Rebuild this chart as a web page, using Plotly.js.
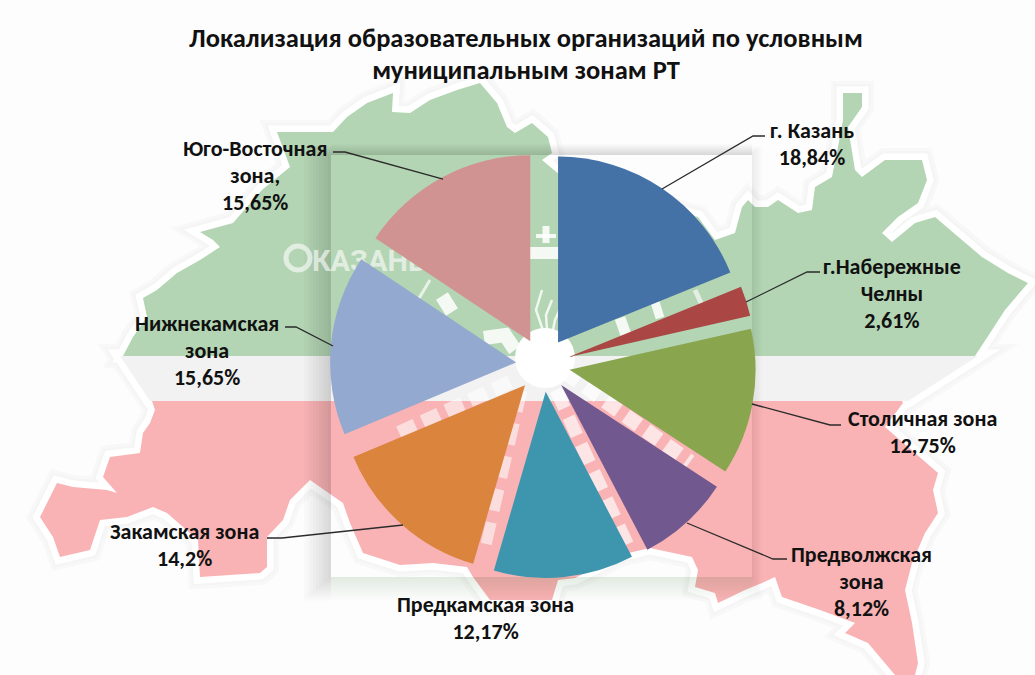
<!DOCTYPE html>
<html><head><meta charset="utf-8"><script src="https://cdn.plot.ly/plotly-3.0.1.min.js"></script>
<style>html,body{margin:0;padding:0;background:#fdfdfd}#c{width:1035px;height:675px}</style></head>
<body><div id="c"></div><script>
const zones=['г. Казань','г.Набережные Челны','Столичная зона','Предволжская зона','Предкамская зона','Закамская зона','Нижнекамская зона','Юго-Восточная зона,'];
const shares=[18.84,2.61,12.75,8.12,12.17,14.2,15.65,15.65];
const sliceColors=['#4471a6','#aa4643','#89a54e','#71588f','#3d96ae','#db843d','#93a9cf','#d19392'];
const labelLines=[['г. Казань','18,84%'],['г.Набережные','Челны','2,61%'],['Столичная зона','12,75%'],['Предволжская','зона','8,12%'],['Предкамская зона','12,17%'],['Закамская зона','14,2%'],['Нижнекамская','зона','15,65%'],['Юго-Восточная','зона,','15,65%']];
const labelAt=[[812,144],[892,293],[922,432],[861,581],[485,618],[184,545],[207,350],[255,175]];
const leaders=[[[765,136],[753,136],[662,189]],[[820,272],[807,272],[746,302]],[[841,425],[830,425],[752,404]],[[787,559],[773,559],[687,523]],null,[[267,538],[282,538],[403,525]],[[285,327],[296,327],[333,346]],[[333,152],[345,152],[443,179]]];
const titleText='Локализация образовательных организаций по условным<br>муниципальным зонам РТ';
const greenMap=[[123,356],[133,337],[147,317],[143,298],[157,290],[177,273],[200,260],[220,247],[213,240],[200,232],[233,223],[247,207],[262,190],[290,167],[277,132],[300,132],[333,132],[347,117],[367,103],[393,93],[392,112],[410,113],[430,100],[457,90],[480,83],[497,103],[507,127],[515,133],[532,123],[548,137],[552,153],[542,160],[560,175],[690,215],[698,217],[715,240],[735,233],[742,207],[748,200],[755,207],[768,207],[778,200],[798,213],[812,210],[815,187],[832,177],[838,147],[843,120],[843,93],[862,93],[862,107],[848,127],[855,170],[862,177],[885,160],[922,160],[927,180],[918,203],[898,217],[882,233],[892,242],[915,223],[935,217],[962,240],[982,257],[1008,273],[1028,283],[1005,310],[992,330],[975,356]];
const redMap=[[152,401],[902,401],[903,403],[885,427],[900,440],[915,453],[938,473],[933,490],[938,513],[925,533],[912,563],[905,590],[912,623],[918,663],[915,675],[895,675],[868,643],[845,633],[855,623],[820,610],[782,597],[775,577],[762,583],[745,590],[718,603],[715,593],[695,587],[698,570],[692,557],[650,548],[620,555],[575,578],[558,580],[552,600],[490,600],[473,577],[467,567],[433,563],[400,565],[363,553],[350,523],[343,503],[320,487],[310,480],[290,500],[283,520],[267,537],[267,567],[260,573],[200,577],[198,540],[167,513],[153,507],[127,517],[100,520],[90,550],[60,557],[53,537],[40,517],[57,483],[73,487],[107,490],[117,493],[103,477],[110,457],[140,453],[143,433],[150,423],[155,410]];
const stripeMap=[[120,356],[978,356],[908,401],[150,401]];
const W=1035,H=675;
const px=x=>x/W, py=y=>1-y/H;
const path=(pts,close)=>'M'+pts.map(p=>px(p[0]).toFixed(5)+','+py(p[1]).toFixed(5)).join('L')+(close?'Z':'');
const P={xref:'paper',yref:'paper',layer:'below'};
const shapes=[];
// halo around the map
[[24,'#f8f8f8'],[18,'#f5f5f5'],[13,'#ffffff']].forEach(h=>[greenMap,redMap,stripeMap].forEach(m=>shapes.push({...P,type:'path',path:path(m,true),fillcolor:'rgba(0,0,0,0)',line:{color:h[1],width:h[0]}})));
const rect=(x0,y0,x1,y1,fill)=>({...P,type:'rect',x0:px(x0),x1:px(x1),y0:py(y1),y1:py(y0),fillcolor:fill,line:{width:0}});
shapes.push({...P,type:'path',path:path(stripeMap,true),fillcolor:'#f2f2f2',line:{width:0}});
shapes.push({...P,type:'path',path:path(greenMap,true),fillcolor:'#b3d5b3',line:{width:0}});
shapes.push({...P,type:'path',path:path(redMap,true),fillcolor:'#f9b3b5',line:{width:0}});
// box shadow strips
for(let i=1;i<=9;i++){
  shapes.push(rect(331-i*3,155-i,331,577+i*2.6,'rgba(40,50,40,0.02)'));
  shapes.push(rect(752,155-i,752+i*1.2,577+i*2.6,'rgba(40,50,40,0.008)'));
  shapes.push(rect(331,155-i*1.2,752,155,'rgba(40,50,40,0.018)'));
  shapes.push(rect(331,577,752,577+i*2.6,'rgba(40,50,40,0.01)'));
}
// white emblem watermark inside the box
const W7='rgba(255,255,255,0.85)';
const stroke=(pts,w,c,dash)=>({...P,type:'path',path:path(pts,false),fillcolor:'rgba(0,0,0,0)',line:{color:c||W7,width:w,dash:dash||'solid'}});
shapes.push(rect(530,247,560,259,W7));
shapes.push(stroke([[546,226],[546,243]],7));
shapes.push(stroke([[536,236],[556,236]],4));
[[[548,345],[536,310],[542,290]],[[548,345],[546,315],[552,300]],[[550,345],[555,320],[562,305]],[[560,345],[570,330],[585,325]]].forEach(l=>shapes.push(stroke(l,2.5,'rgba(255,255,255,0.8)')));
shapes.push(stroke([[442,296],[452,312]],14));
shapes.push(stroke([[418,300],[430,280]],3,'rgba(255,255,255,0.7)'));
shapes.push(stroke([[484,338],[505,335],[515,350]],14));
shapes.push(stroke([[620,318],[626,335]],11));
shapes.push(stroke([[655,302],[660,318]],9));
shapes.push(stroke([[695,290],[702,305]],5,'rgba(255,255,255,0.6)'));
shapes.push({...P,type:'circle',x0:px(515),x1:px(575),y0:py(388),y1:py(328),fillcolor:'#ffffff',line:{width:0}});
shapes.push(stroke([[565,372],[690,462]],15,'rgba(255,255,255,0.65)','16px,9px'));
shapes.push(stroke([[556,390],[630,550]],13,'rgba(255,255,255,0.65)','20px,10px'));
shapes.push(stroke([[522,390],[486,545]],11,'rgba(255,255,255,0.55)','22px,12px'));
shapes.push(stroke([[510,382],[392,436]],14,'rgba(255,255,255,0.55)','18px,8px'));
shapes.push({...P,type:'circle',x0:px(286),x1:px(310),y0:py(270),y1:py(246),fillcolor:'rgba(0,0,0,0)',line:{color:'rgba(255,255,255,0.6)',width:5}});
shapes.push({...P,type:'rect',x0:px(318),x1:px(420),y0:py(276),y1:py(242),fillcolor:'rgba(0,0,0,0)',line:{width:0},
  label:{text:'КАЗАНЬ',textposition:'middle center',font:{family:'Liberation Sans Narrow, Roboto, sans-serif',size:29,color:'rgba(255,255,255,0.62)',weight:700}}});
// leader lines
leaders.forEach(l=>{if(l)shapes.push({xref:'paper',yref:'paper',layer:'above',type:'path',path:path(l,false),fillcolor:'rgba(0,0,0,0)',line:{color:'#2b2b2b',width:1.3}});});
const LF=22;
const annotations=labelLines.map((lines,i)=>({xref:'paper',yref:'paper',x:px(labelAt[i][0]),y:py(labelAt[i][1]),xanchor:'center',yanchor:'middle',showarrow:false,align:'center',
  text:lines.map(t=>'<span style="font-size:'+LF+'px">'+t+'</span>').join('<br>'),
  font:{family:'Carlito, Open Sans, sans-serif',size:20.8,color:'#111111',weight:700}}));
const trace={type:'pie',labels:zones,values:shares,sort:false,direction:'clockwise',rotation:0,pull:0.145,
  marker:{colors:sliceColors,line:{width:0}},textinfo:'none',hoverinfo:'label+value',showlegend:false,
  domain:{x:[px(330),px(756)],y:[py(578),py(152)]}};
const layout={width:W,height:H,margin:{l:0,r:0,t:0,b:0},paper_bgcolor:'#fdfdfd',plot_bgcolor:'rgba(0,0,0,0)',showlegend:false,
  title:{text:'<span style="font-size:26.5px">'+titleText.replace('<br>','</span><br><span style="font-size:26.5px">')+'</span>',x:526/W,xanchor:'center',y:py(47),yanchor:'middle',font:{family:'Carlito, Open Sans, sans-serif',size:24.6,color:'#111111',weight:700}},
  shapes,annotations};
Plotly.newPlot('c',[trace],layout,{displayModeBar:false,staticPlot:true});
</script></body></html>
